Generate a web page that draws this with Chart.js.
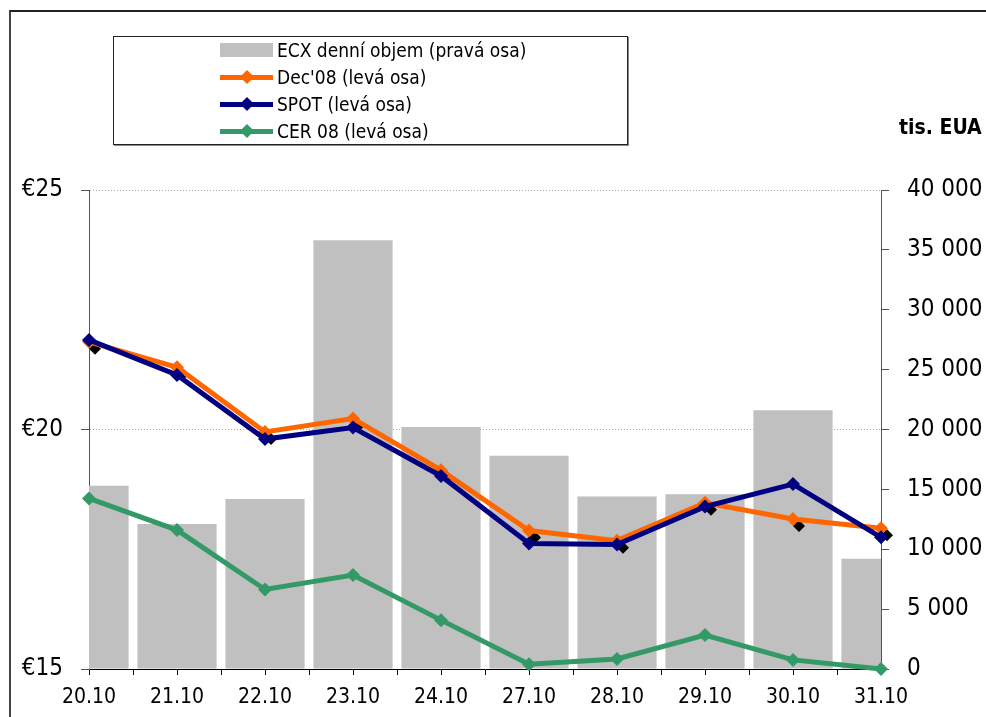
<!DOCTYPE html>
<html>
<head>
<meta charset="utf-8">
<script src="https://cdn.jsdelivr.net/npm/chart.js@4.4.1/dist/chart.umd.min.js"></script>
<style>
  body { margin: 0; background: #fff; overflow: hidden; }
  #wrap { position: relative; width: 986px; height: 717px; overflow: hidden;
          font-family: "DejaVu Sans Condensed", "DejaVu Sans", sans-serif; }
  #frame { position: absolute; left: 9px; top: 10px; width: 1100px; height: 900px;
           border-top: 2px solid #222; border-left: 2px solid #444; }
  #legend { position: absolute; left: 113px; top: 36px; width: 513px; height: 107px;
            border: 1px solid #222; box-shadow: 1px 1px 0 #888; background: #fff; }
  .row { position: absolute; left: 0; width: 100%; height: 22px; }
  .txt { position: absolute; left: 163px; top: 0; font-size: 19px; line-height: 22px; color: #000; white-space: nowrap; }
  .bar { position: absolute; left: 106px; top: 4px; width: 53px; height: 14px; background: #c0c0c0; }
  .ln { position: absolute; left: 106px; top: 9px; width: 53px; height: 5px; }
  .dm { position: absolute; left: 128px; top: 6px; width: 10px; height: 10px; transform: rotate(45deg); }
  #unit { position: absolute; left: 899px; top: 115px; font-size: 21px; font-weight: bold; color: #000; white-space: nowrap; }
  canvas { position: absolute; left: 0; top: 0; }
</style>
</head>
<body>
<div id="wrap">
  <canvas id="chart" width="986" height="717"></canvas>
  <div id="frame"></div>
  <div id="legend"></div>
  <div id="unit">tis. EUA</div>
</div>
<script>
// data
const dates = ["20.10", "21.10", "22.10", "23.10", "24.10", "27.10", "28.10", "29.10", "30.10", "31.10"];
const ecxVolume = [15300, 12100, 14200, 35800, 20200, 17800, 14400, 14600, 21600, 9200];
const dec08 = [21.83, 21.30, 19.95, 20.23, 19.15, 17.89, 17.68, 18.47, 18.13, 17.94];
const spot = [21.87, 21.14, 19.80, 20.04, 19.03, 17.62, 17.60, 18.39, 18.86, 17.75];
const cer08 = [18.56, 17.90, 16.66, 16.96, 16.02, 15.10, 15.21, 15.71, 15.19, 15.00];

const seriesNames = ["ECX denní objem (pravá osa)", "Dec'08 (levá osa)", "SPOT (levá osa)", "CER 08 (levá osa)"];
const seriesColors = ["#c0c0c0", "#ff6600", "#000080", "#339966"];

function toPoints(vals) {
  return vals.map((v, i) => ({ x: i, y: v }));
}

// ============== legend (html) ==============
const legendEl = document.getElementById("legend");
const rowTops = [2, 29, 56, 83];
seriesNames.forEach((name, i) => {
  const row = document.createElement("div");
  row.className = "row";
  row.style.top = rowTops[i] + "px";
  if (i === 0) {
    row.innerHTML = '<div class="bar"></div>';
  } else {
    row.innerHTML = '<div class="ln" style="background:' + seriesColors[i] + '"></div>' +
      '<div class="dm" style="background:' + seriesColors[i] + '"></div>';
  }
  const t = document.createElement("div");
  t.className = "txt";
  t.textContent = name;
  row.appendChild(t);
  legendEl.appendChild(row);
});

// black shadow under the Dec'08 markers
const markerShadow = {
  id: "markerShadow",
  beforeDatasetDraw(chart, args) {
    if (chart.data.datasets[args.index].label !== seriesNames[1]) return;
    const ctx = chart.ctx;
    ctx.save();
    ctx.fillStyle = "#000";
    args.meta.data.forEach(pt => {
      const x = pt.x + 6, y = pt.y + 7, r = 6;
      ctx.beginPath();
      ctx.moveTo(x, y - r);
      ctx.lineTo(x + r, y);
      ctx.lineTo(x, y + r);
      ctx.lineTo(x - r, y);
      ctx.closePath();
      ctx.fill();
    });
    ctx.restore();
  }
};

function lineSet(label, vals, color, order) {
  return {
    type: "line",
    label: label,
    data: toPoints(vals),
    borderColor: color,
    backgroundColor: color,
    borderWidth: 5,
    pointStyle: "rectRot",
    pointRadius: 7,
    pointBorderWidth: 0,
    pointBackgroundColor: color,
    tension: 0,
    clip: false,
    order: order,
    xAxisID: "x",
    yAxisID: "y"
  };
}

const fontFam = '"DejaVu Sans Condensed", "DejaVu Sans", sans-serif';

new Chart(document.getElementById("chart"), {
  type: "bar",
  data: {
    datasets: [
      {
        label: seriesNames[0],
        data: toPoints(ecxVolume),
        backgroundColor: seriesColors[0],
        // ticks every half day make the ruler 44px, so double it
        barPercentage: 0.9,
        categoryPercentage: 2,
        clip: 0,
        order: 5,
        xAxisID: "x",
        yAxisID: "y1"
      },
      lineSet(seriesNames[1], dec08, seriesColors[1], 2),
      lineSet(seriesNames[2], spot, seriesColors[2], 1),
      lineSet(seriesNames[3], cer08, seriesColors[3], 3)
    ]
  },
  plugins: [markerShadow],
  options: {
    responsive: false,
    devicePixelRatio: 1,
    animation: false,
    layout: { padding: { top: 190, left: 0, right: 0, bottom: 0 } },
    plugins: {
      legend: { display: false },
      tooltip: { enabled: false }
    },
    scales: {
      x: {
        type: "linear",
        min: 0,
        max: 9,
        offset: false,
        afterFit: s => { s.height = 48; },
        ticks: {
          stepSize: 0.5,
          autoSkip: false,
          maxRotation: 0,
          padding: 10,
          color: "#000",
          font: { family: fontFam, size: 21 },
          callback: v => Number.isInteger(v) ? dates[v] : ""
        },
        grid: { offset: false, drawOnChartArea: false, drawTicks: true, tickLength: 6, tickColor: "#000" },
        border: { color: "#000", width: 1 }
      },
      y: {
        position: "left",
        min: 15,
        max: 25,
        afterFit: s => { s.width = 89; },
        ticks: {
          stepSize: 5,
          padding: 18,
          color: "#000",
          font: { family: fontFam, size: 24 },
          callback: v => "€" + v
        },
        grid: { color: "#aaa", tickLength: 8, tickColor: "#555" },
        border: { color: "#555", width: 1, dash: [1, 2] }
      },
      y1: {
        position: "right",
        min: 0,
        max: 40000,
        afterFit: s => { s.width = 105; },
        ticks: {
          stepSize: 5000,
          padding: 18,
          color: "#000",
          font: { family: fontFam, size: 24 },
          callback: v => String(v).replace(/\B(?=(\d{3})+(?!\d))/g, " ")
        },
        grid: { drawOnChartArea: false, tickLength: 8, tickColor: "#555" },
        border: { color: "#555", width: 1 }
      }
    }
  }
});
</script>
</body>
</html>
